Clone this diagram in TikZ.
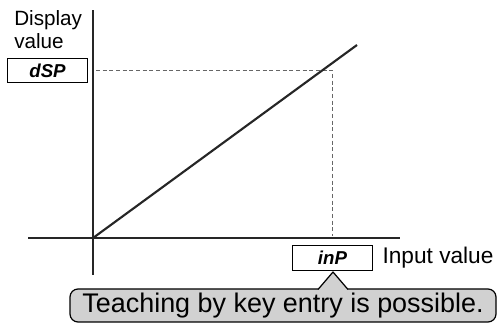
\documentclass[tikz,border=0pt]{standalone}
\usepackage{fontspec}
\setmainfont{Liberation Sans}
\usetikzlibrary{positioning}

\begin{document}
\begin{tikzpicture}[x=0.75pt,y=-0.75pt,
    axis/.style={line width=1.6pt,black!85},
    graph/.style={line width=1.6pt,black!85},
    guide/.style={densely dashed,line width=0.6pt,black!60},
    lcd/.style={rectangle,draw,line width=0.7pt,inner sep=0pt,minimum width=60pt,minimum height=18.5pt,font=\fontsize{14}{14}\selectfont\itshape\bfseries},
    tag/.style={font=\fontsize{15.5}{17}\selectfont,inner sep=0pt},
    tipbox/.style={rectangle,rounded corners=6pt,draw,line width=0.9pt,fill=black!18,minimum width=319.5pt,minimum height=24.75pt,inner sep=0pt,font=\fontsize{20.2}{21}\selectfont}]
    \useasboundingbox (0,0) rectangle (497,324);
    % axes
    \coordinate (o) at (93,238);
    \coordinate (ytop) at (93,10);
    \coordinate (ybot) at (93,275);
    \coordinate (xleft) at (28,238);
    \coordinate (xright) at (400,238);
    \coordinate (lend) at (357,45);
    \coordinate (pt) at (332,70);
    \coordinate (py) at (96,70);
    \coordinate (px) at (332,236);
    \draw[axis] (ybot) -- (ytop);
    \draw[axis] (xleft) -- (xright);
    \draw[guide] (py) -- (pt) -- (px);
    \draw[graph] (o) -- (lend);
    % display side
    \node[lcd] (dsp) at (47.5,70.5) {dSP};
    \node[tag,align=left,anchor=south west] (dsplbl) at (14,49) {Display\\value};
    % input side
    \node[lcd] (inp) at (332.5,258) {inP};
    \node[tag,font=\fontsize{17}{17}\selectfont,right=7pt of inp] (inplbl) {Input value};
    % callout
    \node[tipbox] (tip) at (283,305.5) {Teaching by key entry is possible.};
    \coordinate (apex) at (333,272);
    \coordinate (bl) at (318,289.5);
    \coordinate (br) at (348,289.5);
    \fill[black!18] (bl) -- (apex) -- (br) -- ([yshift=-2pt]br) -- ([yshift=-2pt]bl) -- cycle;
    \draw[line width=0.9pt,line join=round] (bl) -- (apex) -- (br);
\end{tikzpicture}
\end{document}
